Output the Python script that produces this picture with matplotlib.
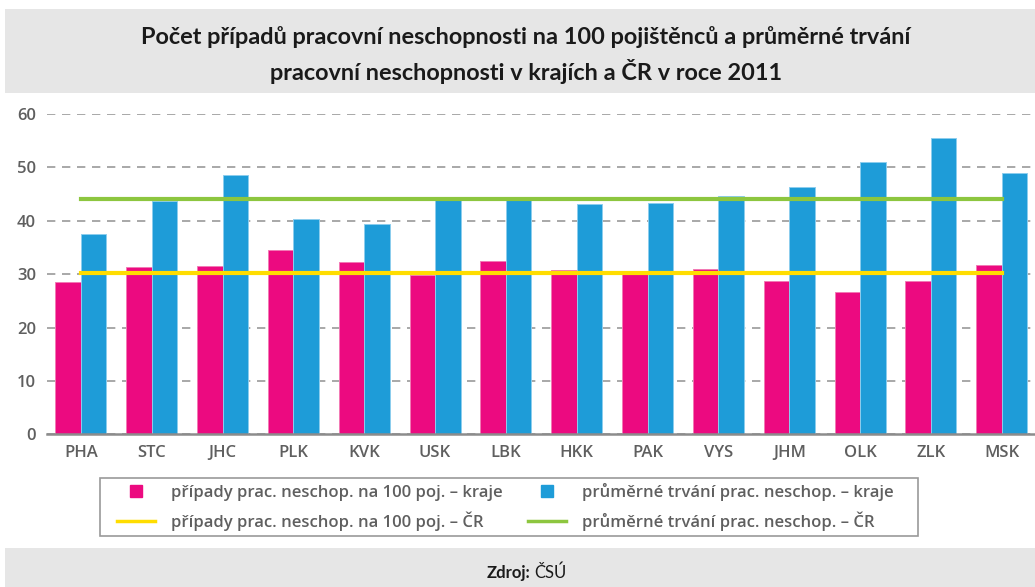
import numpy as np
import matplotlib
matplotlib.use("Agg")
import matplotlib.pyplot as plt
from matplotlib.patches import Rectangle
from matplotlib.lines import Line2D

# data
regions = ['PHA', 'STC', 'JHC', 'PLK', 'KVK', 'USK', 'LBK',
           'HKK', 'PAK', 'VYS', 'JHM', 'OLK', 'ZLK', 'MSK']
cases_per_100 = [28.5, 31.4, 31.6, 34.5, 32.3, 29.9, 32.5,
                 30.7, 30.5, 30.9, 28.8, 26.7, 28.8, 31.8]
avg_duration = [37.6, 43.6, 48.6, 40.4, 39.3, 44.0, 44.1,
                43.2, 43.4, 44.7, 46.4, 50.9, 55.4, 49.0]
cases_cr = 30.15
duration_cr = 44.1
yticks = [0, 10, 20, 30, 40, 50, 60]

title = ('Počet případů pracovní neschopnosti na 100 pojištěnců a průměrné trvání\n'
         'pracovní neschopnosti v krajích a ČR v roce 2011')
legend_labels = ['případy prac. neschop. na 100 poj. – kraje',
                 'případy prac. neschop. na 100 poj. – ČR',
                 'průměrné trvání prac. neschop. – kraje',
                 'průměrné trvání prac. neschop. – ČR']

pink = '#EC0A80'
blue = '#1E9CD8'
yellow = '#FFDD00'
green = '#8DC63F'
grey_txt = '#5f5f5f'

plt.rcParams['font.family'] = ['Open Sans', 'DejaVu Sans']

fig = plt.figure(figsize=(10.35, 5.87), dpi=100)

# title and footer bands
fig.patches.append(Rectangle((0.005, 0.842), 0.995, 0.142, transform=fig.transFigure,
                             facecolor='#e6e6e6', edgecolor='none', zorder=0))
fig.patches.append(Rectangle((0.005, 0.0), 0.995, 0.066, transform=fig.transFigure,
                             facecolor='#e6e6e6', edgecolor='none', zorder=0))
fig.text(0.508, 0.906, title, ha='center', va='center', fontsize=16.9,
         fontweight='bold', color='#1a1a1a', family=['Lato', 'DejaVu Sans'],
         linespacing=1.5)
fig.text(0.512, 0.024, 'Zdroj:', ha='right', va='center', fontsize=12,
         fontweight='bold', color='#1a1a1a', family=['Lato', 'DejaVu Sans'])
fig.text(0.516, 0.024, 'ČSÚ', ha='left', va='center', fontsize=12,
         color='#1a1a1a', family=['Lato', 'DejaVu Sans'])

ax = fig.add_axes([0.0454, 0.260, 0.9546, 0.546])
x = np.arange(len(regions))
w = 0.36
ax.bar(x - w / 2, cases_per_100, w, color=pink, edgecolor='#f27ab5',
       linewidth=0.7, zorder=2)
ax.bar(x + w / 2, avg_duration, w, color=blue, edgecolor='#8ccdee',
       linewidth=0.7, zorder=2)
ax.plot([x[0], x[-1]], [cases_cr, cases_cr], color=yellow, lw=3, zorder=3)
ax.plot([x[0], x[-1]], [duration_cr, duration_cr], color=green, lw=3, zorder=3)

ax.set_xlim(-0.48, 13.47)
ax.set_ylim(0, 60)
ax.set_yticks(yticks)
ax.set_xticks(x)
ax.set_xticklabels(regions)
ax.yaxis.grid(True, color='#999999', linestyle=(0, (5, 4)), linewidth=1.2, zorder=0)
ax.set_axisbelow(True)
for s in ['top', 'right', 'left']:
    ax.spines[s].set_visible(False)
ax.spines['bottom'].set_color('#8c8c8c')
ax.spines['bottom'].set_linewidth(1.8)
ax.tick_params(axis='both', length=0, labelsize=12, labelcolor=grey_txt)
ax.tick_params(axis='y', pad=8)
ax.tick_params(axis='x', pad=8)
for lab in ax.get_xticklabels() + ax.get_yticklabels():
    lab.set_fontweight('semibold')

# legend box drawn separately so its padding matches the reference
fig.patches.append(Rectangle((0.0966, 0.0869), 0.790, 0.0988, transform=fig.transFigure,
                             facecolor='none', edgecolor='#9a9a9a', linewidth=1.2))
handles = [Line2D([], [], marker='s', linestyle='none', color=pink, markersize=9),
           Line2D([], [], color=yellow, lw=2.5),
           Line2D([], [], marker='s', linestyle='none', color=blue, markersize=9),
           Line2D([], [], color=green, lw=2.5)]
leg = fig.legend(handles, legend_labels, ncol=2, loc='center',
                 bbox_to_anchor=(0.488, 0.1363), frameon=False,
                 fontsize=12, handlelength=2.3, handletextpad=0.95,
                 columnspacing=1.5, borderpad=0, labelspacing=0.62)
for t in leg.get_texts():
    t.set_color(grey_txt)
    t.set_fontweight('semibold')

fig.savefig('out.png', dpi=100)
